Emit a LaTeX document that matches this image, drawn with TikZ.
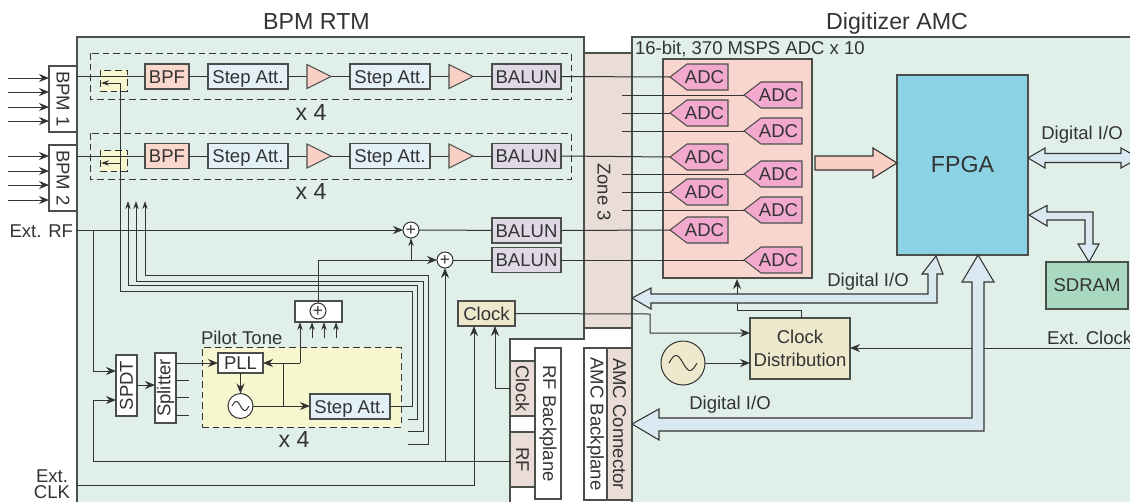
\documentclass[tikz,border=0pt]{standalone}
\usepackage{fontspec}
\setmainfont{Liberation Sans}
\usetikzlibrary{arrows.meta,calc}
\definecolor{ink}{HTML}{333333}
\definecolor{edgeg}{HTML}{4A4F4C}
\definecolor{panelg}{HTML}{E0EFE7}
\definecolor{zonec}{HTML}{EADCD7}
\definecolor{bpfc}{HTML}{FAD9CC}
\definecolor{stepc}{HTML}{E3F0F8}
\definecolor{ampc}{HTML}{F9CFC6}
\definecolor{balunc}{HTML}{DFD9E6}
\definecolor{adcbg}{HTML}{F8D5CD}
\definecolor{adcc}{HTML}{F3A8CE}
\definecolor{yelc}{HTML}{F6F6CF}
\definecolor{clkc}{HTML}{EEE8CC}
\definecolor{fpgac}{HTML}{8CD2E5}
\definecolor{sdramc}{HTML}{A8D9C0}
\definecolor{blockc}{HTML}{DAE9F1}
\newcommand{\fsz}{\fontsize{13.9}{16.5}\selectfont}
\newcommand{\fbig}{\fontsize{17.4}{20}\selectfont}
\newcommand{\rotdn}[1]{\rotatebox{-90}{#1}}
\newcommand{\rotup}[1]{\rotatebox{90}{#1}}
\tikzset{
  wh/.style 2 args={minimum width=#1*0.75pt,minimum height=#2*0.75pt},
  lbl/.style={inner sep=0pt,outer sep=0pt,text=ink,font=\fsz},
  biglbl/.style={inner sep=0pt,outer sep=0pt,text=ink,font=\fbig},
  boxb/.style={draw=edgeg,line width=0.85pt,inner sep=0pt,outer sep=0pt,text=ink,font=\fsz,align=center},
  capbox/.style={boxb,text height=10pt,text depth=0pt},
  bpfbox/.style={capbox,fill=bpfc,wh={44}{25}},
  stepbox/.style={capbox,fill=stepc,wh={80}{25}},
  balunbox/.style={capbox,fill=balunc,wh={69}{25}},
  whitebox/.style={boxb,fill=white},
  zonebox/.style={boxb,fill=zonec},
  sumnode/.style={circle,draw=ink,line width=0.75pt,fill=white,minimum size=16*0.75pt,inner sep=0pt,outer sep=0pt,font=\fontsize{13}{13}\selectfont,text=ink},
  wire/.style={draw=ink,line width=0.75pt},
  arr/.style={wire,-{Stealth[length=7.5pt,width=6pt]}},
  sarr/.style={wire,-{Stealth[length=6pt,width=4pt]}},
  ampshape/.style={draw=edgeg,line width=0.8pt,fill=ampc},
  adcshape/.style={draw=edgeg,line width=0.8pt,fill=adcc},
  blockarrow/.style={draw=ink,line width=0.8pt,fill=blockc,line join=miter},
  dashbox/.style={draw=ink,line width=0.75pt,dash pattern=on 5pt off 3pt},
  paneledge/.style={draw=edgeg,line width=0.9pt},
}
\begin{document}
\begin{tikzpicture}[x=0.75pt,y=-0.75pt]
\useasboundingbox (0,0) rectangle (1130,501);
\clip (0,0) rectangle (1130,501);
\fill[white] (0,0) rectangle (1130,501);
% panels
\filldraw[paneledge,fill=zonec] (584,53) rectangle (632,328);
\filldraw[paneledge,fill=panelg] (77,506) -- (77,37) -- (584,37) -- (584,339) -- (510,339) -- (510,506);
\filldraw[paneledge,fill=panelg] (632,506) -- (632,37) -- (1136,37) -- (1136,506);
% titles
\node[biglbl] (ttl1) at (316.5,22) {BPM RTM};
\node[biglbl] (ttl2) at (897,23) {Digitizer AMC};
\node[lbl,anchor=west] (adcttl) at (635,49) {16-bit, 370 MSPS ADC x 10};
\node[lbl] (zone) at (604,192) {\rotdn{Zone 3}};
% ADC background
\node[boxb,fill=adcbg,wh={149}{219}] (adcbox) at (737.5,168.5) {};
% dashed groups
\draw[dashbox] (90,53) rectangle (571,99);
\draw[dashbox] (90,133) rectangle (571,179);
\node[lbl,font=\fbig] (x1) at (311,113) {x 4};
\node[lbl,font=\fbig] (x2) at (311,192) {x 4};
\node[dashbox,fill=yelc,wh={27}{21},inner sep=0pt,outer sep=0pt] (y1) at (113.5,80.5) {};
\node[dashbox,fill=yelc,wh={27}{21},inner sep=0pt,outer sep=0pt] (y2) at (113.5,160.5) {};
\node[dashbox,fill=yelc,wh={199}{80},inner sep=0pt,outer sep=0pt] (pilot) at (301.5,387) {};
\node[lbl,anchor=west] (pilotl) at (201,338) {Pilot Tone};
\node[lbl,font=\fbig] (x3) at (294,440) {x 4};
% BPM input boxes
\node[whitebox,wh={28}{66}] (bpm1) at (63,99) {\rotdn{BPM 1}};
\node[whitebox,wh={28}{66}] (bpm2) at (63,178) {\rotdn{BPM 2}};
\foreach \n/\yy in {a/78,b/92,c/107,d/121,e/156,f/171,g/185,h/200}{
  \coordinate (in\n) at (8,\yy);
  \coordinate (to\n) at (49,\yy);
  \draw[arr] (in\n) -- (to\n);
}
% row nodes
\foreach \r/\yy in {1/76.5,2/156}{
  \node[bpfbox] (bpf\r) at (167,\yy) {BPF};
  \node[stepbox] (sa\r) at (248,\yy) {Step Att.};
  \node[stepbox] (sb\r) at (390,\yy) {Step Att.};
  \node[balunbox] (bal\r) at (526.5,\yy) {BALUN};
  \coordinate (am\r a) at (307,\yy);
  \coordinate (am\r b) at (331,\yy);
  \coordinate (an\r a) at (449,\yy);
  \coordinate (an\r b) at (473,\yy);
}
% ADC wires first
\coordinate (a1) at (670,77);
\coordinate (a2) at (744,95);
\coordinate (a3) at (670,113);
\coordinate (a4) at (744,131);
\coordinate (a5) at (670,157);
\coordinate (a6) at (744,174);
\coordinate (a7) at (670,192);
\coordinate (a8) at (744,210);
\coordinate (a9) at (670,230);
\coordinate (a10) at (744,260);
\foreach \i in {2,3,4,6,7,8}{
  \draw[wire] (a\i) -- (a\i -| 622,0);
}
% row wiring
\draw[wire] (bpm1.east |- bpf1) -- (bpf1);
\draw[wire] (bpf1) -- (sa1);
\draw[wire] (sa1) -- (am1a);
\draw[wire] (am1b) -- (sb1);
\draw[wire] (sb1) -- (an1a);
\draw[wire] (an1b) -- (bal1);
\draw[wire] (bal1.east) -- (a1);
\draw[wire] (bpm2.east |- bpf2) -- (bpf2);
\draw[wire] (bpf2) -- (sa2);
\draw[wire] (sa2) -- (am2a);
\draw[wire] (am2b) -- (sb2);
\draw[wire] (sb2) -- (an2a);
\draw[wire] (an2b) -- (bal2);
\draw[wire] (bal2.east) -- (a5);
% amp triangles
\foreach \r in {1,2}{
  \filldraw[ampshape] (am\r a) ++(0,-12) -- (am\r b) -- ($(am\r a)+(0,12)$) -- cycle;
  \filldraw[ampshape] (an\r a) ++(0,-12) -- (an\r b) -- ($(an\r a)+(0,12)$) -- cycle;
}
% ADCs
\foreach \i in {1,...,10}{
  \filldraw[adcshape] (a\i) -- ++(17,-13) -- ++(41,0) -- ++(0,26) -- ++(-41,0) -- cycle;
  \node[lbl] (adc\i) at ($(a\i)+(34.5,0.5)$) {ADC};
}
% Ext RF and lower RTM
\node[lbl,anchor=east] (extrf) at (73,231) {Ext. RF};
\coordinate (rfstart) at (77,230);
\node[sumnode] (s1) at (411,230) {+};
\node[sumnode] (s2) at (445,260) {+};
\node[balunbox] (bal3) at (526.5,230.5) {BALUN};
\node[balunbox,wh={69}{25.5}] (bal4) at (526.5,260) {BALUN};
\draw[arr] (rfstart) -- (s1.west);
\draw[wire] (s1) -- (bal3);
\draw[wire] (bal3.east) -- (a9);
\draw[wire] (s2) -- (bal4);
\draw[wire] (bal4.east) -- (a10);
% SPDT, splitter
\node[whitebox,wh={21}{61}] (spdt) at (126.5,385.5) {\rotup{SPDT}};
\node[whitebox,wh={21}{70}] (split) at (165.5,388) {\rotup{Splitter}};
\coordinate (rfj) at (93,230);
\draw[arr] (rfj) |- (spdt.west |- 0,371);
\draw[arr] (spdt.east |- 0,385) -- (split.west |- 0,385);
% RF backplane & boxes
\node[whitebox,wh={26}{151}] (rfbp) at (548,423.5) {\rotdn{RF Backplane}};
\node[whitebox,wh={23}{152}] (amcbp) at (595.5,424) {\rotdn{AMC Backplane}};
\node[zonebox,wh={25}{152}] (amccon) at (619.5,424) {\rotdn{AMC Connector}};
\node[zonebox,wh={25}{55}] (bclk) at (522.5,388.5) {\rotdn{Clock}};
\node[zonebox,wh={25}{55}] (brf) at (522.5,459.5) {\rotdn{RF}};
\draw[arr] (brf.west |- 0,461) -| (93,400) -- (spdt.west |- 0,400);
\draw[arr] (445,461) -- (s2.south);
% pilot tone
\node[capbox,fill=white,wh={45}{20}] (pll) at (240.5,363) {PLL};
\node[circle,draw=ink,line width=0.75pt,fill=white,minimum size=25*0.75pt,inner sep=0pt,outer sep=0pt] (osc1) at (240.5,406) {};
\draw[shift={(osc1.center)},wire] plot[domain=-1:1,samples=31,smooth] (\x*8.5,{4.5*sin(\x*180)});
\node[stepbox] (sc) at (350,406.5) {Step Att.};
\draw[arr] (split.east |- pll) -- (pll.west);
\foreach \yy in {380,397,415}{\draw[wire] (split.east |- 0,\yy) -- ++(13,0);}
\draw[arr] (pll.south) -- (osc1.north);
\draw[arr] (osc1.east) -- (sc.west |- osc1);
\coordinate (pj) at (283,406);
\coordinate (pk) at (283,363);
\draw[wire] (pj) -- (pk);
% combiner
\node[whitebox,wh={47}{21}] (comb) at (318.5,311.5) {};
\node[sumnode,fill=white] (s3) at (318,311) {+};
\coordinate (ck) at (300,363);
\draw[wire] (pk) -- (ck);
\draw[arr] (ck) -- (pll.east);
\draw[sarr] (ck) -- (ck |- comb.south);
\foreach \xx in {312,324,336}{
  \draw[sarr] (\xx,338) -- (\xx,322);
}
\draw[wire] (s3.north) |- (411,260);
\draw[arr] (411,260) -- (s2.west);
\draw[sarr] (411,260) -- (s1.south);
% return lines
\coordinate (t1) at (101,83);
\coordinate (t2) at (101,163);
\draw[wire] (sc.east) -| (412,291) -| (120,83);
\draw[sarr] (120,83) -- (t1);
\draw[sarr] (120,163) -- (t2);
\draw[sarr] (408,419) -| (417,285) -| (128,201);
\draw[sarr] (408,431) -| (423,281) -| (136,201);
\draw[sarr] (408,444) -| (428,275) -| (145,201);
% Clock
\node[capbox,fill=clkc,wh={57}{25}] (clk) at (486.5,313.5) {Clock};
\draw[arr] (bclk.west |- 0,388) -| (clk.south -| 495,0);
\node[lbl,anchor=east] (extclk1) at (68,476) {Ext.};
\node[lbl,anchor=east] (extclk2) at (70,492.5) {CLK};
\draw[arr] (77,485) -| (474,326);
% Clock distribution
\node[boxb,fill=clkc,wh={100}{61},font=\fsz] (cd) at (800,348.5) {Clock\\[0.05em]Distribution};
\node[circle,draw=ink,line width=0.75pt,fill=clkc,minimum size=44*0.75pt,inner sep=0pt,outer sep=0pt] (osc2) at (683,363) {};
\draw[shift={(osc2.center)},wire] plot[domain=-1:1,samples=31,smooth] (\x*14,{7.5*sin(\x*180)});
\draw[arr] (osc2.east) -- (cd.west |- osc2);
\draw[arr] (clk.east) -- (650,314) |- (cd.west |- 0,333);
\draw[arr] (801,318) |- (737,310) -- (737,279);
\node[lbl,anchor=west] (extclk) at (1047,338) {Ext. Clock};
\draw[arr] (1136,348) -- (cd.east |- 0,348);
% FPGA & SDRAM
\node[boxb,fill=fpgac,wh={131}{180},font=\fbig] (fpga) at (962.5,165) {FPGA};
\node[boxb,fill=sdramc,wh={82}{47}] (sdram) at (1087,285.5) {SDRAM};
% block arrows
\filldraw[draw=ink,line width=0.8pt,fill=ampc] (897,163) -- ++(-24,-15) -- ++(0,8) -- (815,156) -- (815,170) -- (873,170) -- (873,178) -- cycle;
\filldraw[blockarrow] (1028,158) -- (1045,148) -- (1045,153.5) -- (1121,153.5) -- (1121,148) -- (1139,158) -- (1121,168) -- (1121,162.5) -- (1045,162.5) -- (1045,168) -- cycle;
\filldraw[blockarrow] (1029,215) -- (1047,205.5) -- (1047,212) -- (1093,212) -- (1093,244) -- (1099,244) -- (1089,262) -- (1078,244) -- (1085,244) -- (1085,220) -- (1047,220) -- (1047,226) -- cycle;
\filldraw[blockarrow] (632,298) -- (651,288) -- (651,294) -- (928,294) -- (928,274) -- (922,274) -- (936,256) -- (943,274) -- (937,274) -- (937,303) -- (651,303) -- (651,309) -- cycle;
\filldraw[blockarrow] (632,424) -- (659,409) -- (659,418) -- (972,418) -- (972,282) -- (962,282) -- (978,255) -- (994,282) -- (984,282) -- (984,431) -- (659,431) -- (659,440) -- cycle;
\node[lbl] (dio1) at (1082,135) {Digital I/O};
\node[lbl] (dio2) at (868,282) {Digital I/O};
\node[lbl] (dio3) at (730,405) {Digital I/O};
\end{tikzpicture}
\end{document}
